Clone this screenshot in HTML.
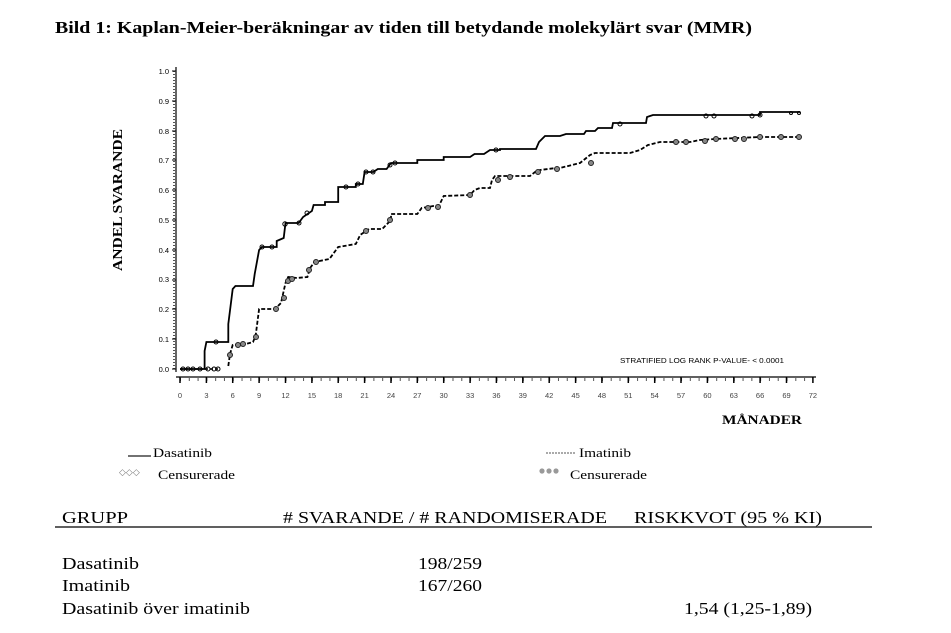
<!DOCTYPE html>
<html><head><meta charset="utf-8"><style>
html,body{margin:0;padding:0;background:#fff;}
svg{display:block;}
</style></head><body>
<svg width="951" height="633" viewBox="0 0 951 633" xmlns="http://www.w3.org/2000/svg">
<rect width="951" height="633" fill="#fff"/>
<text x="55" y="33" font-family="Liberation Serif, serif" font-weight="bold" font-size="17" textLength="697" lengthAdjust="spacingAndGlyphs">Bild 1: Kaplan-Meier-beräkningar av tiden till betydande molekylärt svar (MMR)</text>

<line x1="176" y1="67" x2="176" y2="372" stroke="#000" stroke-width="1.2"/>
<line x1="174" y1="71" x2="174" y2="369" stroke="#555" stroke-width="2" stroke-dasharray="1,2"/>
<g font-family="Liberation Sans, sans-serif" font-size="7.5" fill="#000" text-anchor="end">
<text x="169" y="74">1.0</text><text x="169" y="104">0.9</text><text x="169" y="134">0.8</text>
<text x="169" y="163">0.7</text><text x="169" y="193">0.6</text><text x="169" y="223">0.5</text>
<text x="169" y="253">0.4</text><text x="169" y="282">0.3</text><text x="169" y="312">0.2</text>
<text x="169" y="342">0.1</text><text x="169" y="372">0.0</text>
</g>
<g stroke="#000" stroke-width="1">
<line x1="172" y1="71" x2="176" y2="71"/><line x1="172" y1="101" x2="176" y2="101"/><line x1="172" y1="131" x2="176" y2="131"/><line x1="172" y1="160" x2="176" y2="160"/><line x1="172" y1="190" x2="176" y2="190"/><line x1="172" y1="220" x2="176" y2="220"/><line x1="172" y1="250" x2="176" y2="250"/><line x1="172" y1="280" x2="176" y2="280"/><line x1="172" y1="309" x2="176" y2="309"/><line x1="172" y1="339" x2="176" y2="339"/><line x1="172" y1="369" x2="176" y2="369"/>
</g>
<line x1="176" y1="377" x2="816" y2="377" stroke="#000" stroke-width="1.2"/>
<line x1="180" y1="379.5" x2="813" y2="379.5" stroke="#555" stroke-width="3" stroke-dasharray="1,7.79"/>
<g stroke="#000" stroke-width="1.5">
<line x1="180" y1="377" x2="180" y2="383"/><line x1="206.4" y1="377" x2="206.4" y2="383"/><line x1="232.7" y1="377" x2="232.7" y2="383"/><line x1="259.1" y1="377" x2="259.1" y2="383"/><line x1="285.5" y1="377" x2="285.5" y2="383"/><line x1="311.9" y1="377" x2="311.9" y2="383"/><line x1="338.2" y1="377" x2="338.2" y2="383"/><line x1="364.6" y1="377" x2="364.6" y2="383"/><line x1="391" y1="377" x2="391" y2="383"/><line x1="417.3" y1="377" x2="417.3" y2="383"/><line x1="443.7" y1="377" x2="443.7" y2="383"/><line x1="470.1" y1="377" x2="470.1" y2="383"/><line x1="496.4" y1="377" x2="496.4" y2="383"/><line x1="522.8" y1="377" x2="522.8" y2="383"/><line x1="549.2" y1="377" x2="549.2" y2="383"/><line x1="575.6" y1="377" x2="575.6" y2="383"/><line x1="601.9" y1="377" x2="601.9" y2="383"/><line x1="628.3" y1="377" x2="628.3" y2="383"/><line x1="654.7" y1="377" x2="654.7" y2="383"/><line x1="681" y1="377" x2="681" y2="383"/><line x1="707.4" y1="377" x2="707.4" y2="383"/><line x1="733.8" y1="377" x2="733.8" y2="383"/><line x1="760.1" y1="377" x2="760.1" y2="383"/><line x1="786.5" y1="377" x2="786.5" y2="383"/><line x1="812.9" y1="377" x2="812.9" y2="383"/>
</g>
<g font-family="Liberation Sans, sans-serif" font-size="7.5" fill="#444" text-anchor="middle">
<text x="180" y="398">0</text><text x="206.4" y="398">3</text><text x="232.7" y="398">6</text><text x="259.1" y="398">9</text><text x="285.5" y="398">12</text><text x="311.9" y="398">15</text><text x="338.2" y="398">18</text><text x="364.6" y="398">21</text><text x="391" y="398">24</text><text x="417.3" y="398">27</text><text x="443.7" y="398">30</text><text x="470.1" y="398">33</text><text x="496.4" y="398">36</text><text x="522.8" y="398">39</text><text x="549.2" y="398">42</text><text x="575.6" y="398">45</text><text x="601.9" y="398">48</text><text x="628.3" y="398">51</text><text x="654.7" y="398">54</text><text x="681" y="398">57</text><text x="707.4" y="398">60</text><text x="733.8" y="398">63</text><text x="760.1" y="398">66</text><text x="786.5" y="398">69</text><text x="812.9" y="398">72</text>
</g>

<text transform="translate(122,200) rotate(-90)" font-family="Liberation Serif, serif" font-weight="bold" font-size="14" text-anchor="middle" textLength="142" lengthAdjust="spacingAndGlyphs">ANDEL SVARANDE</text>
<text x="722" y="424" font-family="Liberation Serif, serif" font-weight="bold" font-size="13" textLength="80" lengthAdjust="spacingAndGlyphs">MÅNADER</text>
<text x="620" y="363" font-family="Liberation Sans, sans-serif" font-size="7" textLength="164" lengthAdjust="spacingAndGlyphs">STRATIFIED LOG RANK P-VALUE- &lt; 0.0001</text>

<polyline fill="none" stroke="#000" stroke-width="1.8" points="
180,369 204.6,369 204.6,351 206.4,342 228.3,342 228.3,324 232.7,289 235.4,286 253,286 254.7,274 259.1,250 261.8,247 276.7,247 276.7,241 283.7,238 285.5,223 298.7,223 303.1,217 311.9,211 313.6,205 325,205 325,202 338.2,202 338.2,187 355.8,187 355.8,184 362.8,184 364.6,172 373.4,172 377.8,169 386.6,169 391,163 417.3,163 417.3,160 443.7,160 443.7,157 470.1,157 474.5,154 484,154 490,150 500,150 500,149 536,149 539,142 545,136 560,136 566,134 584,134 586,131 595,131 598,128 612,128 613,123 646,123 647,117 650,116 653,115 680,115 720,115 760,115 760,112 796,112 800,112"/>
<polyline fill="none" stroke="#000" stroke-width="1.8" stroke-dasharray="4,2" points="
228.3,366 230,354 232.7,345 245.9,344 253,342 255.6,336 259.1,309 274.9,309 281,303 283.7,291 285.5,283 288.2,277 297,278 307.4,277 310.1,268 314.5,262 329.4,259 338.2,247 355.8,244 360.2,235 369,229 382.2,229 391,220 391,214 417.3,214 421.7,208 439.3,205 443.7,196 470.1,195 474.5,190 480,188 490,188 492,180 495,176 530,176 535,172 540,170 556,168 560,168 580,163 590,155 595,153 630,153 640,150 648,145 660,142 690,142 700,140 715,139 760,137 800,137"/>
<polyline fill="none" stroke="#000" stroke-width="1.5" stroke-dasharray="3,2" points="180,369 220,369"/>

<g fill="none" stroke="#000" stroke-width="1">
<circle cx="183" cy="369" r="2"/><circle cx="188" cy="369" r="2"/><circle cx="193" cy="369" r="2"/><circle cx="200" cy="369" r="2"/><circle cx="208" cy="369" r="2"/><circle cx="214" cy="369" r="2"/><circle cx="218" cy="369" r="2"/>
<circle cx="216" cy="342" r="2"/><circle cx="262" cy="247" r="2"/><circle cx="272" cy="247" r="2"/><circle cx="285" cy="224" r="2.2"/><circle cx="299" cy="223" r="2"/><circle cx="307" cy="213" r="2"/><circle cx="346" cy="187" r="2"/><circle cx="358" cy="184" r="2"/><circle cx="366" cy="172" r="2"/><circle cx="373" cy="172" r="2"/><circle cx="390" cy="165" r="2"/><circle cx="395" cy="163" r="2"/><circle cx="496" cy="150" r="2"/><circle cx="620" cy="124" r="2"/><circle cx="706" cy="116" r="2"/><circle cx="714" cy="116" r="2"/><circle cx="752" cy="116" r="2"/><circle cx="760" cy="115" r="2"/><circle cx="791" cy="113" r="1.5"/><circle cx="799" cy="113" r="1.5"/>
</g>
<g fill="#888" stroke="#222" stroke-width="1">
<circle cx="230" cy="355" r="2.5"/><circle cx="238" cy="345" r="2.5"/><circle cx="243" cy="344" r="2.5"/><circle cx="256" cy="337" r="2.5"/><circle cx="276" cy="309" r="2.5"/><circle cx="284" cy="298" r="2.5"/><circle cx="288" cy="281" r="2.5"/><circle cx="292" cy="279" r="2.5"/><circle cx="309" cy="270" r="2.5"/><circle cx="316" cy="262" r="2.5"/><circle cx="366" cy="231" r="2.5"/><circle cx="390" cy="220" r="2.5"/><circle cx="428" cy="208" r="2.5"/><circle cx="438" cy="207" r="2.5"/><circle cx="470" cy="195" r="2.5"/><circle cx="498" cy="180" r="2.5"/><circle cx="510" cy="177" r="2.5"/><circle cx="538" cy="172" r="2.5"/><circle cx="557" cy="169" r="2.5"/><circle cx="591" cy="163" r="2.5"/><circle cx="676" cy="142" r="2.5"/><circle cx="686" cy="142" r="2.5"/><circle cx="705" cy="141" r="2.5"/><circle cx="716" cy="139" r="2.5"/><circle cx="735" cy="139" r="2.5"/><circle cx="744" cy="139" r="2.5"/><circle cx="760" cy="137" r="2.5"/><circle cx="781" cy="137" r="2.5"/><circle cx="799" cy="137" r="2.5"/>
</g>

<line x1="128" y1="456" x2="151" y2="456" stroke="#444" stroke-width="1.5"/>
<text x="153" y="457" font-family="Liberation Serif, serif" font-size="13" textLength="59" lengthAdjust="spacingAndGlyphs">Dasatinib</text>
<text x="119" y="475" font-family="Liberation Sans, sans-serif" font-size="9" fill="#777">◇◇◇</text>
<text x="158" y="479" font-family="Liberation Serif, serif" font-size="13" textLength="77" lengthAdjust="spacingAndGlyphs">Censurerade</text>
<line x1="546" y1="453" x2="576" y2="453" stroke="#777" stroke-width="1.3" stroke-dasharray="2,1"/>
<text x="579" y="457" font-family="Liberation Serif, serif" font-size="13" textLength="52" lengthAdjust="spacingAndGlyphs">Imatinib</text>
<g fill="#999"><circle cx="542" cy="471" r="2.6"/><circle cx="549" cy="471" r="2.6"/><circle cx="556" cy="471" r="2.6"/></g>
<text x="570" y="479" font-family="Liberation Serif, serif" font-size="13" textLength="77" lengthAdjust="spacingAndGlyphs">Censurerade</text>

<g font-family="Liberation Serif, serif" font-size="17" fill="#000">
<text x="62" y="523" textLength="66" lengthAdjust="spacingAndGlyphs">GRUPP</text>
<text x="283" y="523" textLength="324" lengthAdjust="spacingAndGlyphs"># SVARANDE / # RANDOMISERADE</text>
<text x="634" y="523" textLength="188" lengthAdjust="spacingAndGlyphs">RISKKVOT (95 % KI)</text>
<text x="62" y="569" textLength="77" lengthAdjust="spacingAndGlyphs">Dasatinib</text>
<text x="418" y="569" textLength="64" lengthAdjust="spacingAndGlyphs">198/259</text>
<text x="62" y="591" textLength="68" lengthAdjust="spacingAndGlyphs">Imatinib</text>
<text x="418" y="591" textLength="64" lengthAdjust="spacingAndGlyphs">167/260</text>
<text x="62" y="614" textLength="188" lengthAdjust="spacingAndGlyphs">Dasatinib över imatinib</text>
<text x="684" y="614" textLength="128" lengthAdjust="spacingAndGlyphs">1,54 (1,25-1,89)</text>
</g>
<line x1="55" y1="527" x2="872" y2="527" stroke="#000" stroke-width="1.2"/>
</svg>
</body></html>
